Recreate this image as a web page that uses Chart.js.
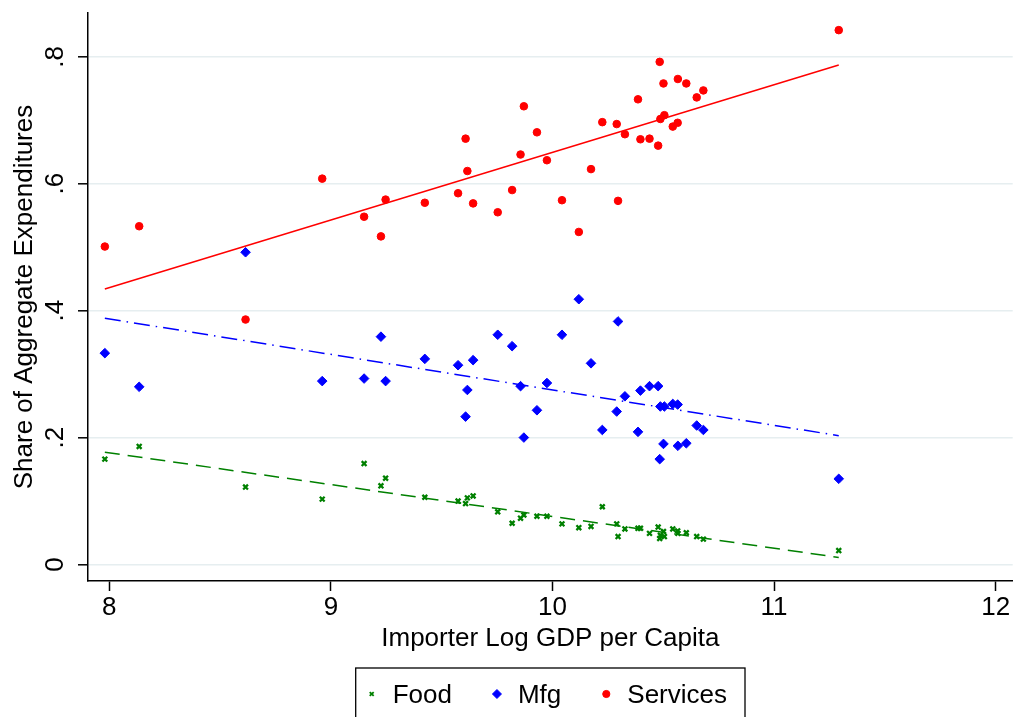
<!DOCTYPE html>
<html>
<head>
<meta charset="utf-8">
<title>Expenditure shares by importer income</title>
<script src="https://cdn.jsdelivr.net/npm/chart.js@4.4.1/dist/chart.umd.min.js"></script>
<style>
  html, body { margin: 0; padding: 0; background: #fff; overflow: hidden; }
  /* a little wider than the window: chart.js keeps ~6px right of the axis for the "12" label */
  #wrap { width: 1019px; height: 717px; position: relative; }
</style>
</head>
<body>
<div id="wrap"><canvas id="chart"></canvas></div>
<script>
'use strict';

// one entry per importing country
const gdp = [
  7.98, 8.135, 8.615, 8.961, 9.150, 9.226, 9.247, 9.424, 9.574, 9.608,
  9.616, 9.642, 9.753, 9.818, 9.856, 9.871, 9.930, 9.975, 10.043, 10.119,
  10.174, 10.225, 10.290, 10.296, 10.327, 10.386, 10.397, 10.438, 10.477, 10.484,
  10.487, 10.501, 10.505, 10.543, 10.565, 10.566, 10.604, 10.651, 10.681, 11.292
];
const food = [
  0.166, 0.186, 0.122, 0.103, 0.159, 0.124, 0.136, 0.106, 0.100, 0.096,
  0.105, 0.108, 0.083, 0.065, 0.073, 0.078, 0.076, 0.076, 0.064, 0.058,
  0.060, 0.091, 0.064, 0.044, 0.056, 0.057, 0.057, 0.049, 0.059, 0.041,
  0.046, 0.052, 0.044, 0.056, 0.053, 0.049, 0.050, 0.044, 0.040, 0.022
];
const mfg = [
  0.333, 0.280, 0.492, 0.289, 0.293, 0.359, 0.289, 0.324, 0.314, 0.233,
  0.275, 0.322, 0.362, 0.344, 0.281, 0.200, 0.243, 0.286, 0.362, 0.418,
  0.317, 0.212, 0.241, 0.383, 0.265, 0.209, 0.274, 0.281, 0.281, 0.166,
  0.249, 0.190, 0.249, 0.253, 0.252, 0.187, 0.191, 0.219, 0.212, 0.135
];
const services = [
  0.501, 0.533, 0.386, 0.608, 0.548, 0.517, 0.575, 0.570, 0.585, 0.671,
  0.620, 0.569, 0.555, 0.590, 0.646, 0.722, 0.681, 0.637, 0.574, 0.524,
  0.623, 0.697, 0.694, 0.573, 0.678, 0.733, 0.670, 0.671, 0.660, 0.792,
  0.702, 0.758, 0.708, 0.690, 0.696, 0.765, 0.758, 0.736, 0.747, 0.842
];

// fitted values at both ends of the sample
const fitX = [7.98, 11.292];
const fitFood = [0.177, 0.011];
const fitMfg = [0.388, 0.203];
const fitServices = [0.434, 0.787];

const xTicks = [8, 9, 10, 11, 12];
const yTicks = [0, 0.2, 0.4, 0.6, 0.8];

const FONT = '"Liberation Sans", Arial, Helvetica, sans-serif';
const GREEN = '#008000', BLUE = '#0000ff', RED = '#ff0000';

const pts = (ys) => gdp.map((x, i) => ({ x, y: ys[i] }));
const fitPts = (ys) => fitX.map((x, i) => ({ x, y: ys[i] }));

// stata-like legend: boxed row under the axis title
const LEGEND_RADIUS = [2.8, 4.5, 3.6];
const boxedLegend = {
  id: 'boxedLegend',
  afterDraw(chart) {
    const ctx = chart.ctx;
    const sets = chart.data.datasets.slice(0, 3);
    const area = chart.chartArea;
    ctx.save();
    ctx.font = '26px ' + FONT;
    const widths = sets.map((d) => ctx.measureText(d.label).width);
    const markGap = 21, itemGap = 45, padL = 16, padR = 18;
    const content = widths.reduce((s, w) => s + w, 0) + sets.length * markGap + (sets.length - 1) * itemGap;
    const boxW = content + padL + padR;
    const boxL = (area.left + area.right) / 2 - boxW / 2;
    const top = 668, rowY = 694, baseY = 703;

    ctx.strokeStyle = '#000';
    ctx.lineWidth = 1.3;
    ctx.strokeRect(boxL, top, boxW, 80);

    let x = boxL + padL;
    sets.forEach((d, i) => {
      ctx.fillStyle = d.backgroundColor;
      ctx.strokeStyle = d.borderColor;
      ctx.lineWidth = i === 0 ? 1.8 : 1;
      Chart.helpers.drawPoint(ctx, {
        pointStyle: d.pointStyle, radius: LEGEND_RADIUS[i], rotation: 0, borderWidth: ctx.lineWidth
      }, x, rowY);
      ctx.fillStyle = '#000';
      ctx.textBaseline = 'alphabetic';
      ctx.textAlign = 'left';
      ctx.fillText(d.label, x + markGap, baseY);
      x += markGap + widths[i] + itemGap;
    });
    ctx.restore();
  }
};

const fmtY = (v) => (v === 0 ? '0' : v.toFixed(1).replace(/^0/, ''));

const noEdgePadding = (s) => {
  s.paddingTop = 0; s.paddingBottom = 0; s.paddingLeft = 0; s.paddingRight = 0;
};

new Chart(document.getElementById('chart'), {
  type: 'scatter',
  data: {
    datasets: [
      { label: 'Food', data: pts(food), order: 1, pointStyle: 'crossRot', pointRadius: 3.4,
        borderWidth: 2.3, borderColor: GREEN, backgroundColor: GREEN },
      { label: 'Mfg', data: pts(mfg), order: 1, pointStyle: 'rectRot', pointRadius: 4.8,
        borderWidth: 1, borderColor: BLUE, backgroundColor: BLUE },
      { label: 'Services', data: pts(services), order: 1, pointStyle: 'circle', pointRadius: 3.8,
        borderWidth: 1, borderColor: RED, backgroundColor: RED },
      { type: 'line', label: 'Fit Food', data: fitPts(fitFood), order: 0, pointRadius: 0,
        borderColor: GREEN, borderWidth: 1.5, borderDash: [15, 8] },
      { type: 'line', label: 'Fit Mfg', data: fitPts(fitMfg), order: 0, pointRadius: 0,
        borderColor: BLUE, borderWidth: 1.5, borderDash: [16, 6, 1.5, 6] },
      { type: 'line', label: 'Fit Services', data: fitPts(fitServices), order: 0, pointRadius: 0,
        borderColor: RED, borderWidth: 1.5 }
    ]
  },
  options: {
    responsive: true,
    maintainAspectRatio: false,
    animation: false,
    events: [],
    layout: { padding: { left: 9, top: 13, right: 2, bottom: 63 } },
    plugins: { legend: { display: false }, tooltip: { enabled: false } },
    scales: {
      x: {
        type: 'linear',
        min: 7.904,
        max: 12.077,
        afterBuildTicks: (s) => { s.ticks = xTicks.map((v) => ({ value: v })); },
        afterFit: (s) => { s.height = 73; noEdgePadding(s); },
        border: { color: '#000', width: 1.5 },
        grid: { drawOnChartArea: false, tickLength: 10, tickColor: '#000', tickWidth: 1.5 },
        ticks: { color: '#000', font: { family: FONT, size: 26 }, padding: 1, maxRotation: 0,
          autoSkip: false, callback: (v) => String(v) },
        title: { display: true, text: 'Importer Log GDP per Capita', color: '#000',
          font: { family: FONT, size: 26 }, padding: 0 }
      },
      y: {
        type: 'linear',
        min: -0.026,
        max: 0.869,
        afterBuildTicks: (s) => { s.ticks = yTicks.map((v) => ({ value: v })); },
        afterFit: (s) => { s.width = 79; noEdgePadding(s); },
        border: { color: '#000', width: 1.5 },
        grid: { color: '#e6eef0', lineWidth: 1.6, tickColor: '#000', tickLength: 10, tickWidth: 1.5 },
        ticks: { color: '#000', font: { family: FONT, size: 26 }, padding: 11, minRotation: 90,
          maxRotation: 90, crossAlign: 'center', autoSkip: false, callback: fmtY },
        title: { display: true, text: 'Share of Aggregate Expenditures', color: '#000',
          font: { family: FONT, size: 26 }, padding: 0 }
      }
    }
  },
  plugins: [boxedLegend]
});
</script>
</body>
</html>
